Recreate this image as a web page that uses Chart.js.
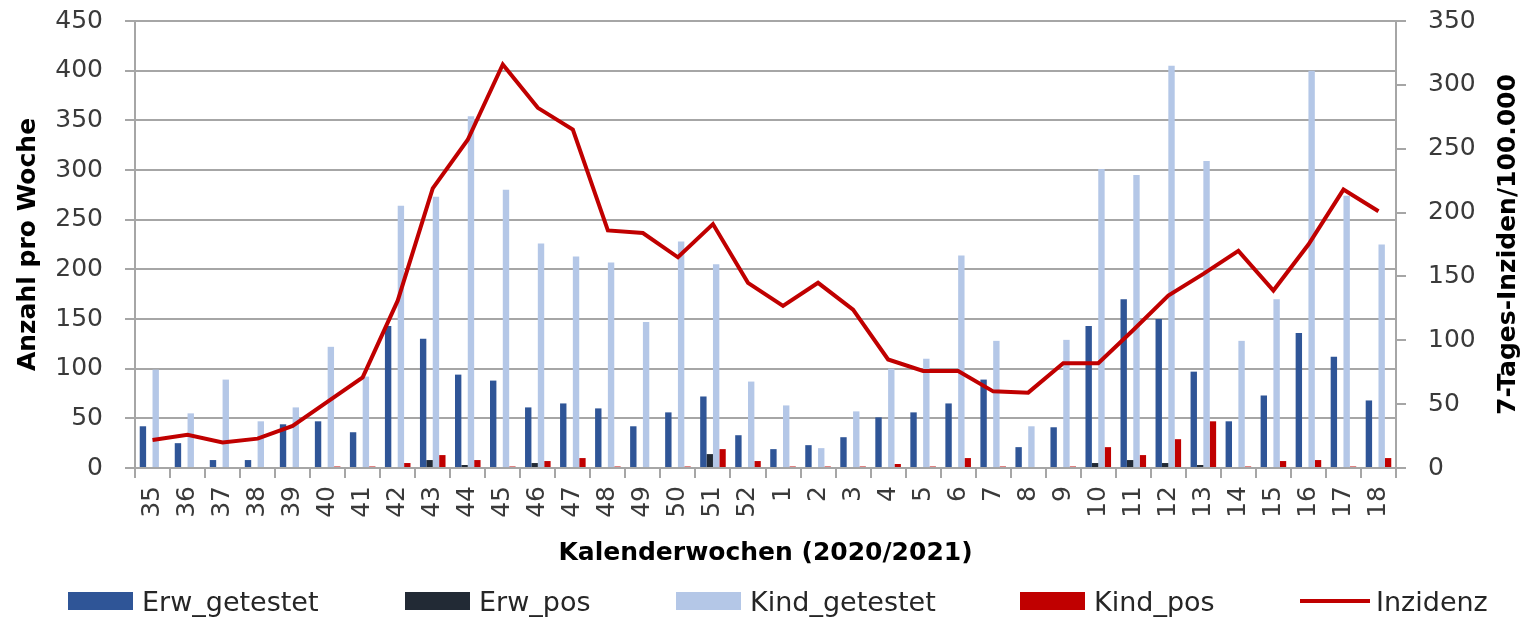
<!DOCTYPE html>
<html lang="de">
<head>
<meta charset="utf-8">
<title>Tests und 7-Tages-Inzidenz pro Kalenderwoche</title>
<script src="https://cdn.jsdelivr.net/npm/chart.js@4.4.1/dist/chart.umd.min.js"></script>
<style>
    html, body { margin: 0; padding: 0; background: #fff; }
    #wrap { position: relative; width: 1536px; height: 618px; }
    #legende { position: absolute; left: 0; top: 586px; width: 1536px; height: 30px;
               font-family: 'DejaVu Sans', sans-serif; font-size: 27px; color: #262626; }
    .eintrag { position: absolute; top: 0; height: 30px; display: flex; align-items: center; white-space: nowrap; }
    .kasten { width: 65px; height: 18px; margin-right: 9px; }
    .strich { width: 70px; height: 4px; margin-right: 6px; }
</style>
</head>
<body>
<div id="wrap">
    <canvas id="grafico-wochen"></canvas>
    <div id="legende"></div>
</div>
<script>
// Kalenderwochen 2020/2021
var kalenderwochen = ['35', '36', '37', '38', '39', '40', '41', '42', '43', '44', '45', '46',
    '47', '48', '49', '50', '51', '52', '1', '2', '3', '4', '5', '6', '7', '8', '9', '10',
    '11', '12', '13', '14', '15', '16', '17', '18'];

// Anzahl pro Woche (linke Achse)
var erwGetestet = [42, 25, 8, 8, 44, 47, 36, 143, 130, 94, 88, 61, 65, 60, 42, 56, 72, 33,
    19, 23, 31, 51, 56, 65, 89, 21, 41, 143, 170, 150, 97, 47, 73, 136, 112, 68];
var erwPos = [1, 0, 0, 0, 0, 0, 1, 1, 8, 3, 1, 5, 1, 1, 1, 0, 14, 1,
    0, 1, 1, 1, 1, 1, 1, 0, 0, 5, 8, 5, 3, 0, 1, 1, 1, 1];
var kindGetestet = [99, 55, 89, 47, 61, 122, 92, 264, 273, 354, 280, 226, 213, 207, 147, 228, 205, 87,
    63, 20, 57, 100, 110, 214, 128, 42, 129, 301, 295, 405, 309, 128, 170, 400, 274, 225];
var kindPos = [0, 0, 0, 0, 0, 1.5, 1.5, 5, 13, 8, 1.5, 7, 10, 1.5, 0, 1.5, 19, 7,
    1.5, 1.5, 1.5, 4, 1.5, 10, 1.5, 0, 1.5, 21, 13, 29, 47, 1.5, 7, 8, 1.5, 10];

// 7-Tages-Inzidenz pro 100.000 (rechte Achse)
var inzidenz = [22, 26, 20, 23, 33, 52, 71, 131, 219, 257, 316, 282, 265, 186, 184, 165, 191, 145,
    127, 145, 124, 85, 76, 76, 60, 59, 82, 82, 108, 135, 152, 170, 139, 175, 218, 201];

// Achsen
var linksMax = 450, linksSchritt = 50;
var rechtsMax = 350, rechtsSchritt = 50;

var titelX = 'Kalenderwochen (2020/2021)';
var titelLinks = 'Anzahl pro Woche';
var titelRechts = '7-Tages-Inziden/100.000';

document.addEventListener('DOMContentLoaded', function() {
    Chart.defaults.font.family = "'DejaVu Sans', sans-serif";

    var grau = '#a6a6a6';
    var schrift = '#3a3a3a';

    // Titel der rechten Achse von unten nach oben lesen (wie in Excel)
    var rechterTitel = {
        id: 'rechterTitel',
        afterDraw: function(chart) {
            var skala = chart.scales.y1;
            var ctx = chart.ctx;
            ctx.save();
            ctx.translate(skala.right - 28, (chart.chartArea.top + chart.chartArea.bottom) / 2);
            ctx.rotate(-Math.PI / 2);
            ctx.font = "bold 25px 'DejaVu Sans'";
            ctx.fillStyle = '#000';
            ctx.textAlign = 'center';
            ctx.textBaseline = 'middle';
            ctx.fillText(titelRechts, 0, 0);
            ctx.restore();
        }
    };

    var ctx = document.getElementById('grafico-wochen').getContext('2d');

    var daten = {
        labels: kalenderwochen,
        datasets: [{
            label: 'Erw_getestet',
            data: erwGetestet,
            backgroundColor: '#2f5597',
            order: 1
        }, {
            label: 'Erw_pos',
            data: erwPos,
            backgroundColor: '#222a35',
            order: 1
        }, {
            label: 'Kind_getestet',
            data: kindGetestet,
            backgroundColor: '#b4c7e7',
            order: 1
        }, {
            label: 'Kind_pos',
            data: kindPos,
            backgroundColor: '#c00000',
            order: 1
        }, {
            type: 'line',
            label: 'Inzidenz',
            data: inzidenz,
            yAxisID: 'y1',
            borderColor: '#c00000',
            backgroundColor: '#c00000',
            borderWidth: 4,
            pointRadius: 0,
            tension: 0,
            order: 0
        }]
    };

    // feste Breiten fuer die y-Achsen, ohne Zusatzabstand oben/unten
    function yBreite(breite) {
        return function(s) {
            s.width = breite;
            s.paddingTop = 0;
            s.paddingBottom = 0;
        };
    }

    var optionen = {
        responsive: true,
        maintainAspectRatio: false,
        animation: false,
        layout: { padding: { top: 21, bottom: 50, left: 0, right: 0 } },
        datasets: {
            bar: { categoryPercentage: 0.73, barPercentage: 1.0 }
        },
        plugins: {
            legend: { display: false },
            tooltip: { enabled: false }
        },
        scales: {
            x: {
                offset: true,
                grid: { offset: true, drawOnChartArea: false, tickLength: 10, color: grau, lineWidth: 2 },
                border: { color: grau, width: 2 },
                ticks: { minRotation: 90, maxRotation: 90, autoSkip: false, padding: 8,
                         color: schrift, font: { size: 25 } },
                title: { display: true, text: titelX, color: '#000',
                         font: { size: 25, weight: 'bold' }, padding: 0 },
                afterFit: function(s) { s.height = 100; }
            },
            y: {
                position: 'left',
                min: 0,
                max: linksMax,
                ticks: { stepSize: linksSchritt, padding: 22, color: schrift, font: { size: 25 } },
                grid: { color: grau, lineWidth: 2, tickLength: 10 },
                border: { color: grau, width: 2 },
                title: { display: true, text: titelLinks, color: '#000',
                         font: { size: 25, weight: 'bold' }, padding: { top: 13, bottom: 0 } },
                afterFit: yBreite(135)
            },
            y1: {
                position: 'right',
                min: 0,
                max: rechtsMax,
                ticks: { stepSize: rechtsSchritt, padding: 22, color: schrift, font: { size: 25 } },
                grid: { drawOnChartArea: false, color: grau, lineWidth: 2, tickLength: 10 },
                border: { color: grau, width: 2 },
                afterFit: yBreite(140)
            }
        }
    };

    var grafico = new Chart(ctx, {
        type: 'bar',
        data: daten,
        options: optionen,
        plugins: [rechterTitel]
    });

    // Legende als HTML aus den Datensaetzen erzeugen
    var legendeLinks = [68, 405, 676, 1020, 1300];
    var legende = document.getElementById('legende');
    grafico.data.datasets.forEach(function(ds, i) {
        var eintrag = document.createElement('div');
        eintrag.className = 'eintrag';
        eintrag.style.left = legendeLinks[i] + 'px';
        var symbol = document.createElement('span');
        symbol.className = ds.type === 'line' ? 'strich' : 'kasten';
        symbol.style.background = ds.type === 'line' ? ds.borderColor : ds.backgroundColor;
        var text = document.createElement('span');
        text.textContent = ds.label;
        eintrag.appendChild(symbol);
        eintrag.appendChild(text);
        legende.appendChild(eintrag);
    });
});
</script>
</body>
</html>
